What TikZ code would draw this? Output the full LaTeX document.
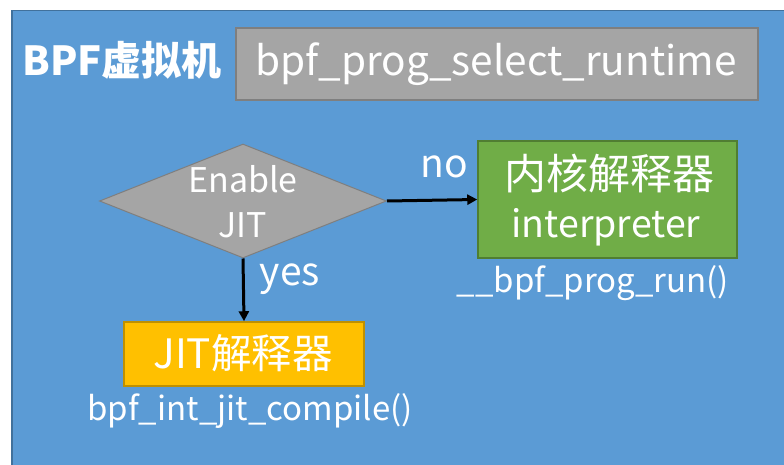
\documentclass[tikz,border=0pt]{standalone}
\usepackage{fontspec}
\setmainfont{Noto Sans CJK SC}
\usetikzlibrary{shapes.geometric,arrows.meta}
\definecolor{bgblue}{HTML}{5B9BD5}
\definecolor{bgedge}{HTML}{41719C}
\definecolor{gfill}{HTML}{A5A5A5}
\definecolor{gedge}{HTML}{7F7F7F}
\definecolor{grfill}{HTML}{70AD47}
\definecolor{gredge}{HTML}{507E32}
\definecolor{yfill}{HTML}{FFC000}
\definecolor{yedge}{HTML}{BF9000}
\tikzset{
  wtext/.style={text=white, inner sep=0pt},
  boxgray/.style={draw=gedge, fill=gfill, line width=1.5pt, inner sep=0pt},
  boxgreen/.style={draw=gredge, fill=grfill, line width=1.5pt, inner sep=0pt},
  boxyellow/.style={draw=yedge, fill=yfill, line width=1.5pt, inner sep=0pt},
  flow/.style={line width=3pt, -{Triangle[length=10pt,width=10pt]}}
}
\begin{document}
\begin{tikzpicture}[x=1pt,y=-1pt]
\useasboundingbox (0,0) rectangle (784,465);
\fill[white] (0,0) rectangle (784,465);
\fill[bgblue] (12,10) rectangle (784,465);
\draw[bgedge, line width=1.5pt] (12,465) -- (12,10.5) -- (784,10.5);
% title
\node[wtext, font=\bfseries\fontsize{40}{44}\selectfont, anchor=west] (title) at (22,60) {BPF虚拟机};
% gray box
\node[boxgray, minimum width=522pt, minimum height=72pt] (sel) at (497,64) {};
\node[wtext, font=\fontsize{40.5}{46}\selectfont] (seltext) at (496,64) {bpf\_prog\_select\_runtime};
% diamond
\node[diamond, draw=gedge, fill=gfill, line width=1pt, minimum width=287pt, minimum height=114pt, inner sep=0pt, aspect=2.5] (dec) at (243,201) {};
\node[wtext, font=\fontsize{34}{38}\selectfont] (dec1) at (243,179) {Enable};
\node[wtext, font=\fontsize{34}{38}\selectfont] (dec2) at (243,225) {JIT};
% green box
\node[boxgreen, minimum width=259pt, minimum height=117pt] (interp) at (607.5,199.5) {};
\node[wtext, font=\fontsize{42}{44}\selectfont] (interp1) at (609,174) {内核解释器};
\node[wtext, font=\fontsize{37.5}{42}\selectfont] (interp2) at (606,227) {interpreter};
\node[wtext, font=\fontsize{33}{36}\selectfont] (runlbl) at (593,283) {\_\_bpf\_prog\_run()};
% yellow box
\node[boxyellow, minimum width=240pt, minimum height=64pt] (jit) at (244,354) {};
\node[wtext, font=\fontsize{40.5}{44}\selectfont] (jittext) at (243,353) {JIT解释器};
\node[wtext, font=\fontsize{33}{36}\selectfont] (jitlbl) at (250,411) {bpf\_int\_jit\_compile()};
% arrows
\draw[flow] (dec.east) -- (interp.west);
\draw[flow] (dec.south) -- (jit.north);
\node[wtext, font=\fontsize{39}{42}\selectfont] (no) at (444,167) {no};
\node[wtext, font=\fontsize{39}{42}\selectfont] (yes) at (290,279) {yes};
\end{tikzpicture}
\end{document}
